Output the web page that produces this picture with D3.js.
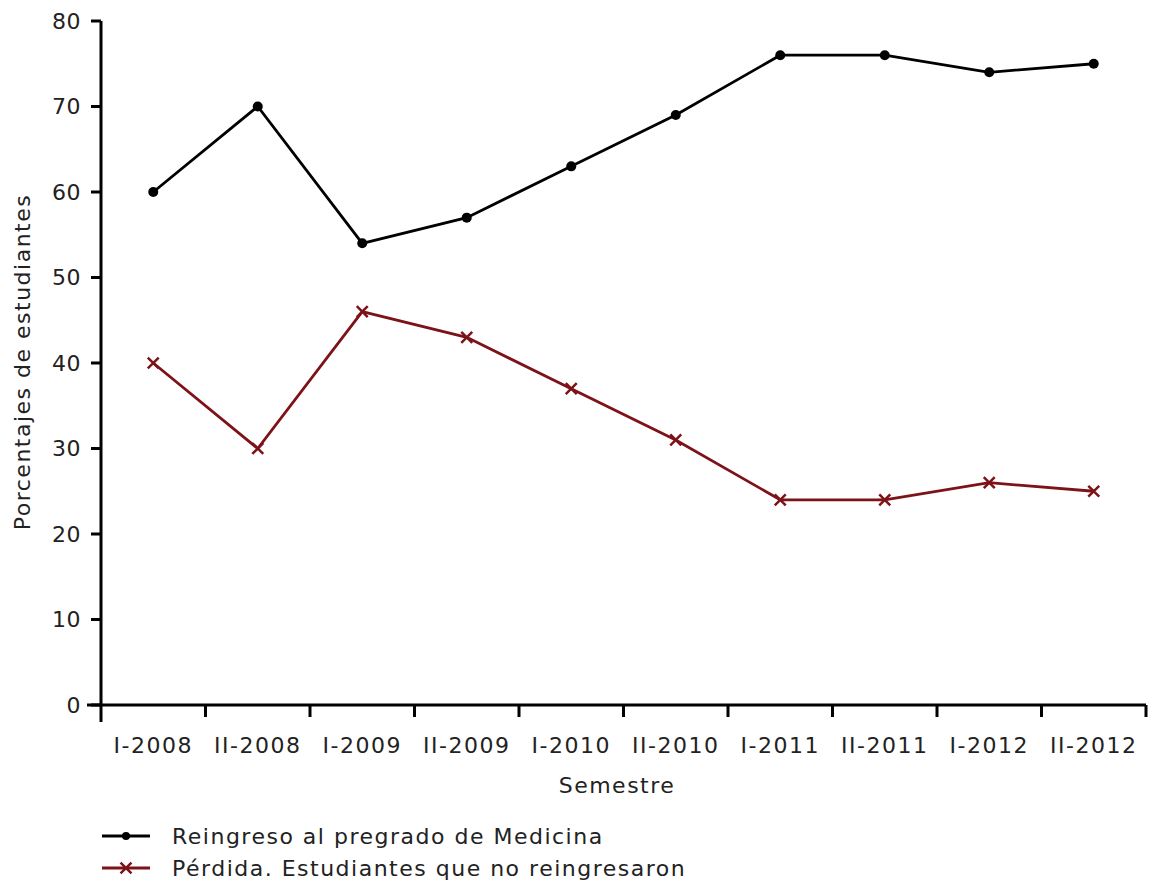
<!DOCTYPE html>
<html>
<head>
<meta charset="utf-8">
<script src="https://cdn.jsdelivr.net/npm/d3@7"></script>
<style>
  body { margin: 0; background: #fff; }
  text { font-family: "DejaVu Sans", Verdana, sans-serif; fill: #222; font-size: 22px; letter-spacing: 1.5px; }
</style>
</head>
<body>
<div id="chart"></div>
<script>
// chart values
const semestres = ['I-2008', 'II-2008', 'I-2009', 'II-2009', 'I-2010', 'II-2010', 'I-2011', 'II-2011', 'I-2012', 'II-2012'];
const reingreso = [60, 70, 54, 57, 63, 69, 76, 76, 74, 75];
const perdida = [40, 30, 46, 43, 37, 31, 24, 24, 26, 25];
const yTicks = [0, 10, 20, 30, 40, 50, 60, 70, 80];
const seriesNames = ['Reingreso al pregrado de Medicina', 'Pérdida. Estudiantes que no reingresaron'];

const width = 1152, height = 887;
const plotLeft = 101, plotRight = 1146, plotTop = 21, plotBottom = 705;
const redColor = '#7d1218';

const svg = d3.select('#chart')
    .append('svg')
    .attr('width', width)
    .attr('height', height);

const xScale = d3.scaleBand().domain(semestres).range([plotLeft, plotRight]);
const yScale = d3.scaleLinear().domain([0, 80]).range([plotBottom, plotTop]);

// x axis: ticks at band boundaries
const xAxis = svg.append('g').attr('transform', `translate(0,${plotBottom})`);
xAxis.append('line')
    .attr('x1', plotLeft - 14).attr('x2', plotRight)
    .attr('stroke', '#000').attr('stroke-width', 3);
const bounds = semestres.map(d => xScale(d)).concat([plotRight]);
xAxis.selectAll('line.tick')
    .data(bounds.slice(1))
    .join('line')
    .attr('class', 'tick')
    .attr('x1', d => d).attr('x2', d => d)
    .attr('y1', 0).attr('y2', 12)
    .attr('stroke', '#000').attr('stroke-width', 3);
xAxis.selectAll('text')
    .data(semestres)
    .join('text')
    .attr('x', d => xScale(d) + xScale.bandwidth() / 2)
    .attr('y', 48)
    .attr('text-anchor', 'middle')
    .text(d => d);

// y axis
const yAxis = svg.append('g').attr('transform', `translate(${plotLeft},0)`);
yAxis.append('line')
    .attr('y1', plotTop).attr('y2', plotBottom + 17)
    .attr('stroke', '#000').attr('stroke-width', 3);
yAxis.selectAll('line.tick')
    .data(yTicks)
    .join('line')
    .attr('class', 'tick')
    .attr('x1', -10).attr('x2', 0)
    .attr('y1', d => yScale(d)).attr('y2', d => yScale(d))
    .attr('stroke', '#000').attr('stroke-width', 3);
yAxis.selectAll('text')
    .data(yTicks)
    .join('text')
    .attr('x', -20)
    .attr('y', d => yScale(d))
    .attr('dy', '0.36em')
    .attr('text-anchor', 'end')
    .style('letter-spacing', '0.5px')
    .text(d => d);

// axis labels
svg.append('text')
    .attr('x', 617)
    .attr('y', 793)
    .attr('text-anchor', 'middle')
    .text('Semestre');

svg.append('text')
    .attr('transform', `translate(30,362) rotate(-90)`)
    .attr('text-anchor', 'middle')
    .text('Porcentajes de estudiantes');

// lines
const cx = i => xScale(semestres[i]) + xScale.bandwidth() / 2;
const line = d3.line().x((d, i) => cx(i)).y(d => yScale(d));

svg.append('path')
    .datum(reingreso)
    .attr('d', line)
    .attr('fill', 'none')
    .attr('stroke', '#000')
    .attr('stroke-width', 2.8);

svg.selectAll('circle.pt')
    .data(reingreso)
    .join('circle')
    .attr('class', 'pt')
    .attr('cx', (d, i) => cx(i))
    .attr('cy', d => yScale(d))
    .attr('r', 5)
    .attr('fill', '#000');

svg.append('path')
    .datum(perdida)
    .attr('d', line)
    .attr('fill', 'none')
    .attr('stroke', redColor)
    .attr('stroke-width', 2.8);

const cross = d3.symbol().type(d3.symbolX).size(80);
svg.selectAll('path.x')
    .data(perdida)
    .join('path')
    .attr('class', 'x')
    .attr('transform', (d, i) => `translate(${cx(i)},${yScale(d)})`)
    .attr('d', cross)
    .attr('fill', 'none')
    .attr('stroke', redColor)
    .attr('stroke-width', 2.5);

// legend
const legend = svg.append('g').attr('transform', 'translate(102,836)');
legend.selectAll('line')
    .data(seriesNames)
    .join('line')
    .attr('x1', 0).attr('x2', 48)
    .attr('y1', (d, i) => i * 32).attr('y2', (d, i) => i * 32)
    .attr('stroke', (d, i) => i === 0 ? '#000' : redColor)
    .attr('stroke-width', 2.8);
legend.append('circle')
    .attr('cx', 24).attr('cy', 0).attr('r', 4).attr('fill', '#000');
legend.append('path')
    .attr('transform', 'translate(24,32)')
    .attr('d', cross)
    .attr('fill', 'none')
    .attr('stroke', redColor)
    .attr('stroke-width', 2.5);
legend.selectAll('text')
    .data(seriesNames)
    .join('text')
    .attr('x', 70)
    .attr('y', (d, i) => i * 32)
    .attr('dy', '0.36em')
    .text(d => d);
</script>
</body>
</html>
